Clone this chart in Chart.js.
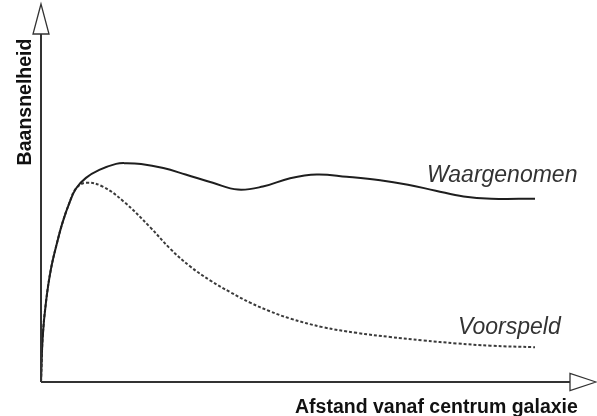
<!DOCTYPE html>
<html>
<head>
<meta charset="utf-8">
<script src="https://cdn.jsdelivr.net/npm/chart.js@4"></script>
<style>
html,body{margin:0;padding:0;background:#fff;}
#wrap{width:597px;height:416px;position:relative;}
</style>
</head>
<body>
<div id="wrap"><canvas id="c"></canvas></div>
<script>
// Distance from galaxy centre (arbitrary units) and orbital speed (arbitrary units)
const obsX  = [0, 0.31, 0.9, 1.8, 3.0, 3.9, 5.09, 6.3, 8.09, 10.49, 13.5, 15.3, 18.0, 22.0, 26.0, 30.9, 35.4, 39.9, 44.8, 49.6, 55.0, 61.0, 66.0, 71.0, 76.0, 81.0, 88.85];
const obsY  = [0, 12.0, 21.2, 30.0, 37.5, 42.3, 47.3, 51.2, 54.0, 56.1, 57.7, 57.9, 57.7, 56.6, 54.9, 52.7, 50.9, 51.7, 53.9, 54.9, 54.3, 53.4, 52.2, 50.6, 49.1, 48.5, 48.5];
const predX = [0, 0.31, 0.9, 1.8, 3.0, 3.9, 5.09, 6.3, 8.09, 11.1, 14.9, 19.6, 23.2, 26.8, 30.4, 34.0, 37.6, 41.2, 44.8, 50.7, 56.8, 62.8, 68.7, 74.8, 80.8, 88.85];
const predY = [0, 12.0, 21.2, 30.0, 37.5, 42.3, 47.3, 51.2, 52.7, 51.7, 47.7, 41.0, 35.3, 30.6, 26.9, 23.8, 21.0, 18.7, 16.8, 14.5, 13.0, 11.9, 11.0, 10.2, 9.6, 9.2];
const seriesNames = ["Waargenomen", "Voorspeld"];
const xTitle = "Afstand vanaf centrum galaxie";
const yTitle = "Baansnelheid";

const toPts = (xs, ys) => xs.map((x, i) => ({x: x, y: ys[i]}));

const decor = {
  id: 'decor',
  afterDatasetsDraw(chart) {
    const ctx = chart.ctx;
    const xs = chart.scales.x, ys = chart.scales.y;
    const x0 = xs.getPixelForValue(0), y0 = ys.getPixelForValue(0);
    const yTop = ys.getPixelForValue(100), xEnd = xs.getPixelForValue(100);
    ctx.save();
    ctx.strokeStyle = '#333';
    ctx.lineWidth = 2;
    ctx.beginPath();
    ctx.moveTo(x0, y0);
    ctx.lineTo(x0, yTop + 30);
    ctx.moveTo(x0, y0);
    ctx.lineTo(xEnd - 27, y0);
    ctx.stroke();
    ctx.lineWidth = 1.3;
    ctx.fillStyle = '#fff';
    ctx.beginPath();
    ctx.moveTo(x0, yTop);
    ctx.lineTo(x0 - 8, yTop + 30);
    ctx.lineTo(x0 + 8, yTop + 30);
    ctx.closePath();
    ctx.fill(); ctx.stroke();
    ctx.beginPath();
    ctx.moveTo(xEnd - 1, y0);
    ctx.lineTo(xEnd - 27, y0 - 8.5);
    ctx.lineTo(xEnd - 27, y0 + 8.5);
    ctx.closePath();
    ctx.fill(); ctx.stroke();
    ctx.fillStyle = '#111';
    ctx.font = 'bold 19.5px "Liberation Sans", Arial, sans-serif';
    ctx.textBaseline = 'alphabetic';
    ctx.textAlign = 'left';
    ctx.fillText(xTitle, 295, 413);
    ctx.save();
    ctx.translate(31, 102);
    ctx.rotate(-Math.PI / 2);
    ctx.textAlign = 'center';
    ctx.fillText(yTitle, 0, 0);
    ctx.restore();
    ctx.fillStyle = '#333';
    ctx.font = 'italic 23px "Liberation Sans", Arial, sans-serif';
    ctx.fillText(seriesNames[0], 427, 182);
    ctx.fillText(seriesNames[1], 458, 334);
    ctx.restore();
  }
};

new Chart(document.getElementById('c'), {
  type: 'line',
  data: {
    datasets: [
      {label: seriesNames[0], data: toPts(obsX, obsY), borderColor: '#1e1e1e', borderWidth: 2,
       pointRadius: 0, tension: 0.4, fill: false},
      {label: seriesNames[1], data: toPts(predX, predY), borderColor: '#3a3a3a', borderWidth: 2,
       borderDash: [3, 2], pointRadius: 0, tension: 0.4, fill: false}
    ]
  },
  options: {
    responsive: true,
    maintainAspectRatio: false,
    animation: false,
    layout: {padding: {left: 41, top: 4, right: 0, bottom: 34}},
    plugins: {legend: {display: false}, tooltip: {enabled: false}},
    scales: {
      x: {type: 'linear', min: 0, max: 100, display: false},
      y: {type: 'linear', min: 0, max: 100, display: false}
    }
  },
  plugins: [decor]
});
</script>
</body>
</html>
